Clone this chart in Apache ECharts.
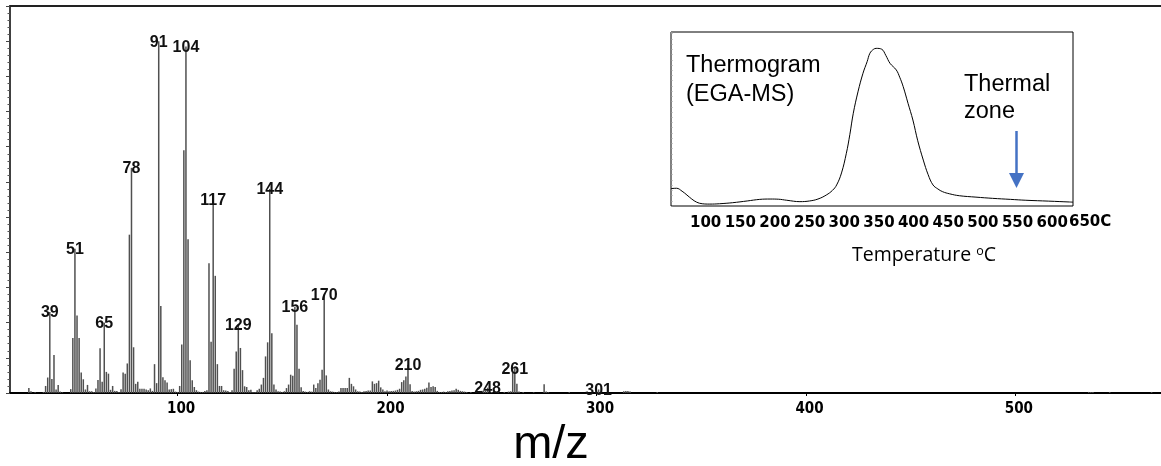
<!DOCTYPE html>
<html><head><meta charset="utf-8">
<script src="https://cdn.jsdelivr.net/npm/echarts@6/dist/echarts.min.js"></script>
<style>html,body{margin:0;padding:0;background:#fff}#c{width:1161px;height:466px}</style>
</head><body><div id="c"></div>
<script>
// ---- mass spectrum (m/z, relative intensity) ----
const mzValues = [29,30,32,36,37,38,39,40,41,42,43,44,45,49,50,51,52,53,54,55,56,57,58,59,60,61,62,63,64,65,66,67,68,69,70,71,72,73,74,75,76,77,78,79,80,81,82,83,84,85,86,87,88,89,90,91,92,93,94,95,96,97,98,99,100,101,102,103,104,105,106,107,108,109,110,111,112,113,114,115,116,117,118,119,120,121,122,123,124,125,126,127,128,129,130,131,132,133,134,135,136,137,138,139,140,141,142,143,144,145,146,147,148,149,150,151,152,153,154,155,156,157,158,159,160,161,162,163,164,165,166,167,168,169,170,171,172,173,174,175,176,177,178,179,180,181,182,183,184,185,186,187,188,189,190,191,192,193,194,195,196,197,198,199,200,201,202,203,204,205,206,207,208,209,210,211,212,213,214,215,216,217,218,219,220,221,222,223,224,225,226,227,228,229,230,231,232,233,234,235,236,237,238,240,243,244,245,246,247,248,249,250,253,256,258,259,260,261,262,263,265,270,275,276,277,287,300,301,302,313,314,315,316,329,535,536,537,545,565];
const intensities = [1.4,0.5,0.2,0.3,2.0,4.4,23,4.0,10.8,1.0,2.3,0.4,0.2,1.1,15.6,41,22,15.6,5.8,3.9,1.0,2.3,0.5,0.5,0.3,1.3,3.7,12.7,3.2,20,6.0,5.5,0.9,2.0,0.6,0.6,0.3,1.1,5.8,5.5,8.4,45,64,13,2.6,3.2,1.2,1.2,1.2,1.0,0.8,1.3,0.6,8.2,2.8,100,24.7,4.5,3.6,3.0,1.0,1.1,1.2,0.4,0.3,2.0,13.8,69,98.5,43.7,9.3,3.6,1.7,0.8,0.4,0.3,0.3,0.6,0.8,36.9,14.6,55,33.3,8.2,2.0,2.0,0.8,0.7,0.6,0.3,0.8,6.9,11.8,19.5,12.8,6.5,1.9,1.7,0.8,0.9,0.3,0.3,0.8,1.2,2.4,4.3,10.4,14.4,58,17,2.4,1.0,0.5,0.4,0.3,0.5,1.4,2.4,5.2,4.9,24.5,19.4,6.9,1.6,0.6,0.4,0.3,0.5,0.4,2.4,1.4,2.8,3.8,6.6,28,5.0,1.0,0.5,0.4,0.3,0.3,0.4,1.4,1.4,1.4,1.4,4.3,2.6,1.9,1.0,0.5,0.4,0.3,0.5,0.6,0.7,0.7,3.3,2.6,2.8,3.5,1.6,1.0,0.5,0.7,0.5,0.6,0.6,0.7,0.9,1.2,3.1,3.6,4.7,8,2.5,0.6,0.4,0.5,0.6,0.9,1.0,1.2,1.5,3.0,1.7,1.9,1.7,0.6,0.3,0.3,0.4,0.3,0.5,0.6,0.7,0.8,1.2,0.9,0.6,0.5,0.4,0.3,0.3,0.5,0.6,0.6,0.7,0.6,1.5,0.4,0.3,0.3,0.3,0.4,0.5,5.7,7,2.6,0.4,0.3,0.2,2.5,0.4,0.2,0.3,0.3,1.0,0.3,0.5,0.6,0.6,0.4,0.3,0.3,0.3,0.3,0.3,0.3];
const labeledPeaks = [39,51,65,78,91,104,117,129,144,156,170,210,248,261,301];
const mzTicks = [100,200,300,400,500];

// ---- inset thermogram (temperature, signal) ----
const thermoTemps  = [50,58,66,73,80,87,95,106,120,139,160,178,193,205,217,236,250,262,274,283,289,296,303,308,313,320,327,333,337,342,346,354,360,366,375,380,385,392,399,406,414,421,428,435,442,452,466,490,514,540,562,595,625,630];
const thermoSignal = [10.0,10.2,8.5,6.3,4.0,2.2,1.3,1.1,1.3,1.9,2.9,3.8,4.0,3.9,3.3,2.5,2.9,4.0,6.3,9.0,12.1,19,30.3,41,53.3,66,76.3,83,87.8,90,90.6,90.1,86.5,82,78.2,74,68.6,59,49.4,37.5,26.4,18,12.1,9.8,8.2,7.0,5.9,5.1,4.4,3.8,3.3,2.8,2.3,2.2];
const tempTicks = [100,150,200,250,300,350,400,450,500,550,600];

const spectrumData = mzValues.map((m, i) => {
  const d = { value: [m, intensities[i]] };
  if (labeledPeaks.includes(m)) d.label = { show: true };
  return d;
});
const thermoData = thermoTemps.map((t, i) => [t, thermoSignal[i]]);

const chart = echarts.init(document.getElementById('c'), null, { renderer: 'canvas' });
chart.setOption({
  animation: false,
  backgroundColor: '#fff',
  grid: [
    { left: 10, top: 6, width: 1151, height: 387 },
    { left: 671, top: 32, width: 402, height: 174, show: true, borderColor: '#000', borderWidth: 1, backgroundColor: '#fff' }
  ],
  xAxis: [
    { type: 'value', gridIndex: 0, min: 20, max: 569.5,
      axisLine: { show: true, lineStyle: { color: '#000', width: 2 } },
      axisTick: { show: true, customValues: mzTicks, length: 3, lineStyle: { color: '#000' } },
      axisLabel: { customValues: mzTicks, margin: 9, padding: [0, 0, 0, 7], color: '#000', fontWeight: 'bold', fontSize: 15, fontFamily: "'Liberation Sans Narrow','DejaVu Sans Condensed',sans-serif" },
      splitLine: { show: false } },
    { type: 'value', gridIndex: 0, position: 'top', min: 20, max: 569.5,
      axisLine: { show: true, lineStyle: { color: '#222', width: 2 } },
      axisTick: { show: false }, axisLabel: { show: false }, splitLine: { show: false } },
    { type: 'value', gridIndex: 1, min: 50, max: 630,
      axisLine: { show: false }, axisTick: { show: false },
      axisLabel: { customValues: tempTicks, margin: 10, color: '#000', fontWeight: 'bold', fontSize: 15, fontFamily: "'DejaVu Sans',sans-serif" },
      splitLine: { show: false } }
  ],
  yAxis: [
    { type: 'value', gridIndex: 0, min: 0, max: 110, interval: 10,
      axisLine: { show: true, lineStyle: { color: '#000', width: 1.5 } },
      axisTick: { show: true, length: 4, lineStyle: { color: '#444' } },
      minorTick: { show: true, splitNumber: 5, length: 2.5, lineStyle: { color: '#555' } },
      axisLabel: { show: false }, splitLine: { show: false } },
    { type: 'value', gridIndex: 1, min: 0, max: 100, interval: 3,
      axisLine: { show: false },
      axisTick: { show: true, inside: true, length: 1.5, lineStyle: { color: '#999' } },
      axisLabel: { show: false }, splitLine: { show: false } }
  ],
  series: [
    { type: 'bar', xAxisIndex: 0, yAxisIndex: 0, barWidth: 1.5, data: spectrumData,
      itemStyle: { color: '#505050' },
      label: { show: false, position: 'top', distance: -9, formatter: p => p.value[0],
               color: '#111', fontWeight: 'bold', fontSize: 16, fontFamily: "'Liberation Sans',Arial,sans-serif" } },
    { type: 'line', xAxisIndex: 2, yAxisIndex: 1, data: thermoData, smooth: 0.4, showSymbol: false,
      lineStyle: { color: '#000', width: 1 } }
  ],
  graphic: [
    { type: 'text', x: 551, y: 445, style: { text: 'm/z', fill: '#000', font: "47px 'Liberation Sans',Arial,sans-serif", textAlign: 'center', textVerticalAlign: 'middle' } },
    { type: 'text', x: 686, y: 51, style: { text: 'Thermogram\n(EGA-MS)', fill: '#000', font: "23.5px 'Liberation Sans',Arial,sans-serif", lineHeight: 29 } },
    { type: 'text', x: 964, y: 71, style: { text: 'Thermal\nzone', fill: '#000', font: "23.5px 'Liberation Sans',Arial,sans-serif", lineHeight: 27 } },
    { type: 'text', x: 1069, y: 222, style: { text: '650C', fill: '#000', font: "bold 15px 'DejaVu Sans',sans-serif", textVerticalAlign: 'middle' } },
    { type: 'text', x: 924, y: 255, style: { text: '{t|Temperature }{s|o}{t|C}', textAlign: 'center', textVerticalAlign: 'middle',
        rich: { t: { fontSize: 19.5, fontFamily: "'Open Sans',sans-serif", fill: '#000', verticalAlign: 'bottom' },
                s: { fontSize: 12.5, fontFamily: "'Open Sans',sans-serif", fill: '#000', verticalAlign: 'top' } } } },
    { type: 'line', shape: { x1: 1016.5, y1: 131, x2: 1016.5, y2: 176 }, style: { stroke: '#4472C4', lineWidth: 2.5 } },
    { type: 'polygon', shape: { points: [[1009, 173], [1024, 173], [1016.5, 188]] }, style: { fill: '#4472C4' } }
  ]
});
</script>
</body></html>
